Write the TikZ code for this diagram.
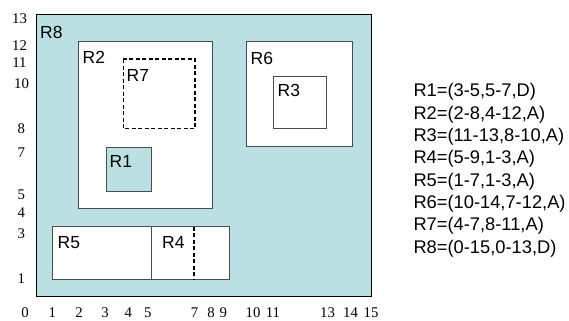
\documentclass[tikz,border=0pt]{standalone}
\usepackage{fontspec}
\setmainfont{Liberation Serif}
\newfontfamily\arialfont{Liberation Sans}
\definecolor{regionblue}{RGB}{187,224,227}
\begin{document}
\begin{tikzpicture}[x=1bp,y=-1bp,
  box/.style={draw=black!70,line width=0.9bp},
  dashbox/.style={draw=black,line width=1.4bp,dash pattern=on 4bp off 2.5bp},
  rlabel/.style={anchor=west,inner sep=0pt,font=\arialfont\fontsize{17.5bp}{21bp}\selectfont},
  tick/.style={inner sep=0pt,font=\fontsize{14.8bp}{16bp}\selectfont},
  listline/.style={anchor=base west,inner sep=0pt,font=\arialfont\fontsize{18.3bp}{22bp}\selectfont}]
\useasboundingbox (0,0) rectangle (569,320);
% outer region R8
\draw[fill=regionblue,line width=1bp] (36.7,14.3) rectangle (371.2,296.7);
\node[rlabel] (r8) at (40,32.7) {R8};
% R2 with R7 and R1 inside
\draw[box,fill=white] (78.7,41) rectangle (212.3,208.3);
\node[rlabel] (r2) at (82.5,57.3) {R2};
\draw[dashbox] (123.3,59) rectangle (195,128.7);
\node[rlabel] (r7) at (126.5,75) {R7};
\draw[box,fill=regionblue] (106,147) rectangle (151.3,191);
\node[rlabel] (r1) at (109.5,161) {R1};
% R6 with R3 inside
\draw[box,fill=white] (246.7,41) rectangle (352.7,146.7);
\node[rlabel] (r6) at (250.5,58.3) {R6};
\draw[box,fill=white] (273.3,76) rectangle (326.7,128.7);
\node[rlabel] (r3) at (277.5,90.7) {R3};
% R5 and R4, overlap 5-7
\draw[box,fill=white] (52.7,226.7) rectangle (151.3,279);
\draw[box,fill=white] (151.3,226.7) rectangle (229.3,279);
\draw[dashbox] (194,226.7) -- (194,279);
\node[rlabel] (r5) at (57.5,242.7) {R5};
\node[rlabel] (r4) at (162,242.7) {R4};
% axis numbers
\node[tick] (x0) at (25,312.5) {0};
\node[tick] (x1) at (52.3,312.5) {1};
\node[tick] (x2) at (79,312.5) {2};
\node[tick] (x3) at (105,312.5) {3};
\node[tick] (x4) at (128.3,312.5) {4};
\node[tick] (x5) at (147.7,312.5) {5};
\node[tick] (x7) at (194.5,312.5) {7};
\node[tick] (x8) at (211,312.5) {8};
\node[tick] (x9) at (223.3,312.5) {9};
\node[tick] (x10) at (253,312.5) {10};
\node[tick] (x11) at (273,312.5) {11};
\node[tick] (x13) at (327.5,312.5) {13};
\node[tick] (x14) at (350.5,312.5) {14};
\node[tick] (x15) at (371,312.5) {15};
\node[tick] (y13) at (19.5,18.3) {13};
\node[tick] (y12) at (19.5,46) {12};
\node[tick] (y11) at (19.5,62.3) {11};
\node[tick] (y10) at (21.5,83.3) {10};
\node[tick] (y8) at (21.2,128.3) {8};
\node[tick] (y7) at (21.2,152.3) {7};
\node[tick] (y5) at (21.2,195) {5};
\node[tick] (y4) at (21.2,212.7) {4};
\node[tick] (y3) at (21.2,234) {3};
\node[tick] (y1) at (21.2,278.3) {1};
% list of regions
\node[listline] (d1) at (413.3,96.7) {R1=(3-5,5-7,D)};
\node[listline] (d2) at (413.3,119.0) {R2=(2-8,4-12,A)};
\node[listline] (d3) at (413.3,141.4) {R3=(11-13,8-10,A)};
\node[listline] (d4) at (413.3,163.7) {R4=(5-9,1-3,A)};
\node[listline] (d5) at (413.3,186.0) {R5=(1-7,1-3,A)};
\node[listline] (d6) at (413.3,208.4) {R6=(10-14,7-12,A)};
\node[listline] (d7) at (413.3,230.7) {R7=(4-7,8-11,A)};
\node[listline] (d8) at (413.3,253.0) {R8=(0-15,0-13,D)};
\end{tikzpicture}
\end{document}
